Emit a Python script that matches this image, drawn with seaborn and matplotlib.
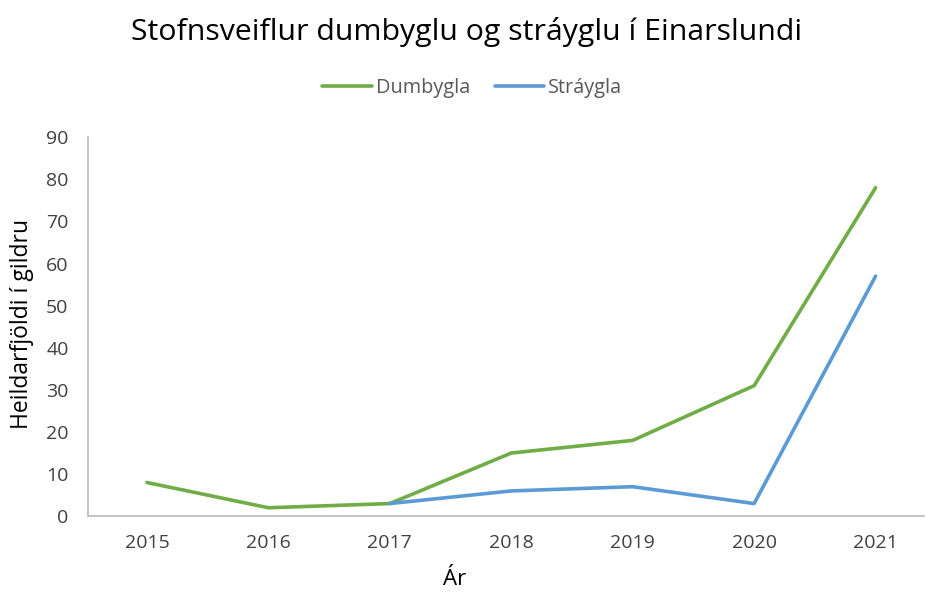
"""Stofnsveiflur dumbyglu og stráyglu í Einarslundi."""

import matplotlib
matplotlib.use("Agg")
import matplotlib.pyplot as plt
import numpy as np
import pandas as pd
import seaborn as sns

years = ["2015", "2016", "2017", "2018", "2019", "2020", "2021"]
dumbygla = [8, 2, 3, 15, 18, 31, 78]
straygla = [np.nan, np.nan, 3, 6, 7, 3, 57]

series_names = ["Dumbygla", "Stráygla"]
colors = ["#70AD47", "#5B9BD5"]

df = pd.DataFrame({
    "ar": years * 2,
    "x": list(range(len(years))) * 2,
    "fjoldi": dumbygla + straygla,
    "tegund": [series_names[0]] * len(years) + [series_names[1]] * len(years),
})

sns.set_style("white")
plt.rcParams["font.family"] = ["Open Sans", "DejaVu Sans"]

fig = plt.figure(figsize=(9.26, 5.94), dpi=100)
ax = fig.add_axes([0.095, 0.131, 0.903, 0.638])

sns.lineplot(data=df, x="x", y="fjoldi", hue="tegund", palette=colors,
             hue_order=series_names, linewidth=2.6, ax=ax, legend=False)

ax.set_xlim(-0.486, 6.40)
ax.set_ylim(0, 90)
ax.set_xticks(range(len(years)))
ax.set_xticklabels(years)
ax.set_yticks(range(0, 91, 10))
ax.tick_params(axis="both", length=0, labelsize=14, colors="#404040")
ax.tick_params(axis="y", pad=14)
ax.tick_params(axis="x", pad=13)

for side in ["top", "right"]:
    ax.spines[side].set_visible(False)
for side in ["left", "bottom"]:
    ax.spines[side].set_color("#BFBFBF")
    ax.spines[side].set_linewidth(1.3)

ax.set_xlabel("")
ax.set_ylabel("")
fig.text(0.024, 0.455, "Heildarfjöldi í gildru", rotation=90, ha="center",
         va="center", fontsize=16.5, color="black")
fig.text(0.491, 0.024, "Ár", ha="center", va="center", fontsize=16, color="black")
fig.text(0.504, 0.946, "Stofnsveiflur dumbyglu og stráyglu í Einarslundi",
         ha="center", va="center", fontsize=21.8, color="black")

handles = [plt.Line2D([], [], color=c, linewidth=2.6) for c in colors]
fig.legend(handles, series_names, loc="center", bbox_to_anchor=(0.510, 0.852),
           ncol=2, frameon=False, fontsize=14.3, handlelength=2.5,
           columnspacing=1.25, handletextpad=0.2, labelcolor="#595959")

fig.savefig("out.png", dpi=100)
